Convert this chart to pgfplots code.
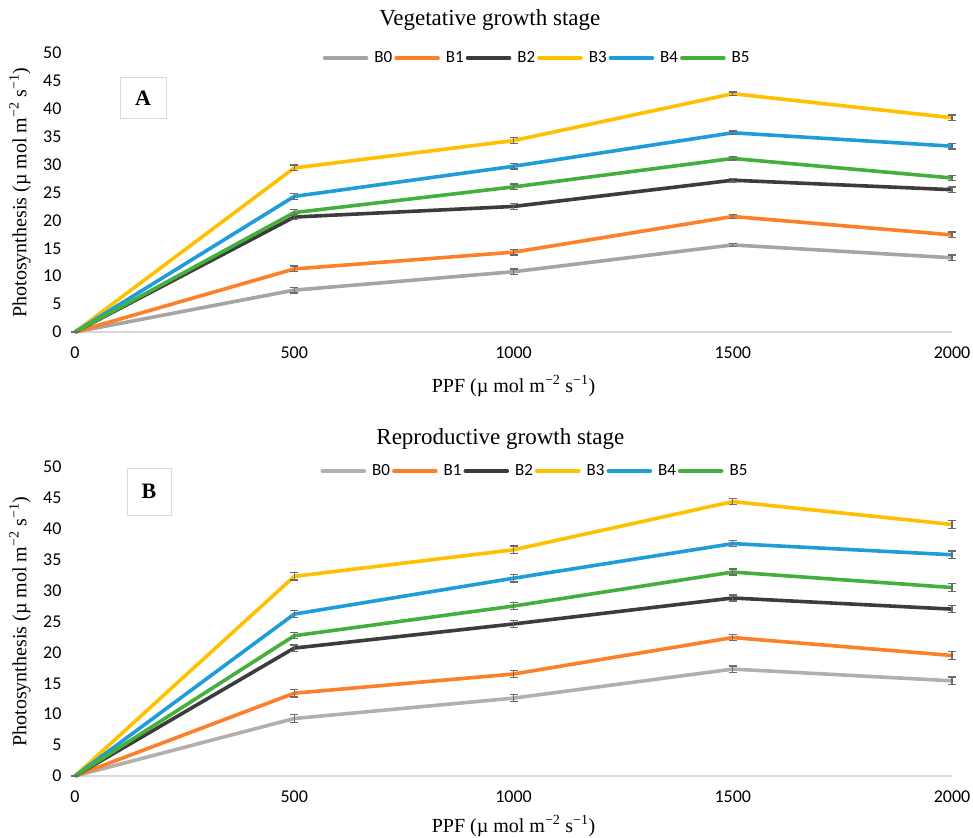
\documentclass[border=0pt]{standalone}
\usepackage{pgfplots}
\pgfplotsset{compat=1.18}
\usepackage{pgfplotstable}
\usepackage{fontspec}
\setmainfont{Liberation Serif}
\newfontfamily\calib{Carlito}
\definecolor{cB0}{HTML}{A5A5A5}
\definecolor{cB0b}{HTML}{B3AFAF}
\definecolor{cB1}{HTML}{FD7F2A}
\definecolor{cB2}{HTML}{3C3C3C}
\definecolor{cB3}{HTML}{FFC000}
\definecolor{cB4}{HTML}{1F9DDB}
\definecolor{cB5}{HTML}{44AF3C}
\definecolor{errc}{HTML}{6B6B6B}
\definecolor{axc}{HTML}{D9D9D9}

\pgfplotstableread{
x    b0   e0   b1   e1   b2   e2   b3   e3   b4   e4   b5   e5
0    0    0    0    0    0    0    0    0    0    0    0    0
500  7.5  0.5  11.3 0.5  20.6 0.5  29.4 0.5  24.3 0.5  21.4 0.5
1000 10.8 0.5  14.3 0.5  22.5 0.5  34.3 0.5  29.7 0.5  26.0 0.5
1500 15.6 0.3  20.7 0.3  27.2 0.3  42.7 0.3  35.7 0.3  31.1 0.3
2000 13.3 0.5  17.4 0.5  25.5 0.5  38.4 0.5  33.3 0.5  27.6 0.5
}\tabA
\pgfplotstableread{
x    b0   e0   b1   e1   b2   e2   b3   e3   b4   e4   b5   e5
0    0    0    0    0    0    0    0    0    0    0    0    0
500  9.3  0.6  13.4 0.6  20.7 0.5  32.3 0.6  26.2 0.6  22.7 0.5
1000 12.6 0.6  16.5 0.6  24.6 0.6  36.6 0.6  32.0 0.6  27.5 0.6
1500 17.3 0.5  22.4 0.5  28.8 0.5  44.4 0.5  37.6 0.5  33.0 0.5
2000 15.4 0.6  19.5 0.6  27.0 0.6  40.7 0.6  35.8 0.6  30.5 0.6
}\tabB

\tikzset{boxlab/.style={draw=axc, line width=0.8pt, font=\bfseries\fontsize{22}{22}\selectfont, anchor=center}}
\pgfplotsset{
  panel/.style={
    scale only axis, width=877pt,
    xmin=0, xmax=2000, ymin=0, ymax=50,
    axis x line*=bottom, axis y line*=left,
    y axis line style={draw=none},
    x axis line style={draw=axc, line width=1.5pt},
    xtick={0,500,1000,1500,2000}, ytick={0,5,...,50},
    major tick length=0pt,
    /pgf/number format/assume math mode=true,
    /pgf/number format/1000 sep={},
    scaled ticks=false,
    tick label style={font=\fontsize{18}{18}\calib},
    xticklabel style={yshift=-11pt},
    yticklabel style={xshift=-10pt},
    clip=false,
    legend columns=6,
    legend style={draw=none, fill=none, font=\fontsize{17}{17}\calib,
      anchor=center, inner sep=0pt,
      nodes={inner sep=2pt},
      /tikz/every odd column/.append style={column sep=4pt}},
    legend image code/.code={\draw[##1, line cap=round] (0pt,0pt) -- (42pt,0pt);},
    every axis plot/.append style={line width=3.6pt, line join=round},
    error bars/y dir=both, error bars/y explicit,
    error bars/error bar style={line width=1.3pt, color=errc},
    error bars/error mark options={rotate=90, mark size=4pt, line width=1.3pt, color=errc},
    every axis title/.style={font=\fontsize{23}{23}\selectfont, anchor=center},
    every axis y label/.style={at={(axis description cs:-0.0627,0.5)}, rotate=90, anchor=center, font=\fontsize{20}{20}\selectfont},
    xlabel={PPF (µ mol m\textsuperscript{−2} s\textsuperscript{−1})},
    ylabel={Photosynthesis (µ mol m\textsuperscript{−2} s\textsuperscript{−1})},
  },
}

\begin{document}
\begin{tikzpicture}
\useasboundingbox (0,0) rectangle (973pt,837pt);
\begin{axis}[panel, height=279pt, at={(75pt,505pt)}, anchor=south west,
  title={Vegetative growth stage},
  title style={at={(axis description cs:0.473,1.117)}},
  every axis x label/.style={at={(axis description cs:0.5,-0.1935)}, anchor=center, font=\fontsize{20}{20}\selectfont},
  legend style={at={(axis description cs:0.527,0.982)}}]
\addplot[cB0] table[x=x, y=b0, y error=e0] {\tabA};
\addplot[cB1] table[x=x, y=b1, y error=e1] {\tabA};
\addplot[cB2] table[x=x, y=b2, y error=e2] {\tabA};
\addplot[cB3] table[x=x, y=b3, y error=e3] {\tabA};
\addplot[cB4] table[x=x, y=b4, y error=e4] {\tabA};
\addplot[cB5] table[x=x, y=b5, y error=e5] {\tabA};
\legend{B0,B1,B2,B3,B4,B5}
\node[boxlab, minimum width=46pt, minimum height=41pt] at (axis description cs:0.0775,0.839) {A};
\end{axis}
\begin{axis}[panel, height=309pt, at={(75pt,61pt)}, anchor=south west,
  title={Reproductive growth stage},
  title style={at={(axis description cs:0.485,1.090)}},
  every axis x label/.style={at={(axis description cs:0.5,-0.162)}, anchor=center, font=\fontsize{20}{20}\selectfont},
  legend style={at={(axis description cs:0.5245,0.987)}}]
\addplot[cB0b] table[x=x, y=b0, y error=e0] {\tabB};
\addplot[cB1] table[x=x, y=b1, y error=e1] {\tabB};
\addplot[cB2] table[x=x, y=b2, y error=e2] {\tabB};
\addplot[cB3] table[x=x, y=b3, y error=e3] {\tabB};
\addplot[cB4] table[x=x, y=b4, y error=e4] {\tabB};
\addplot[cB5] table[x=x, y=b5, y error=e5] {\tabB};
\legend{B0,B1,B2,B3,B4,B5}
\node[boxlab, minimum width=44pt, minimum height=47pt] at (axis description cs:0.0844,0.921) {B};
\end{axis}
\end{tikzpicture}
\end{document}
